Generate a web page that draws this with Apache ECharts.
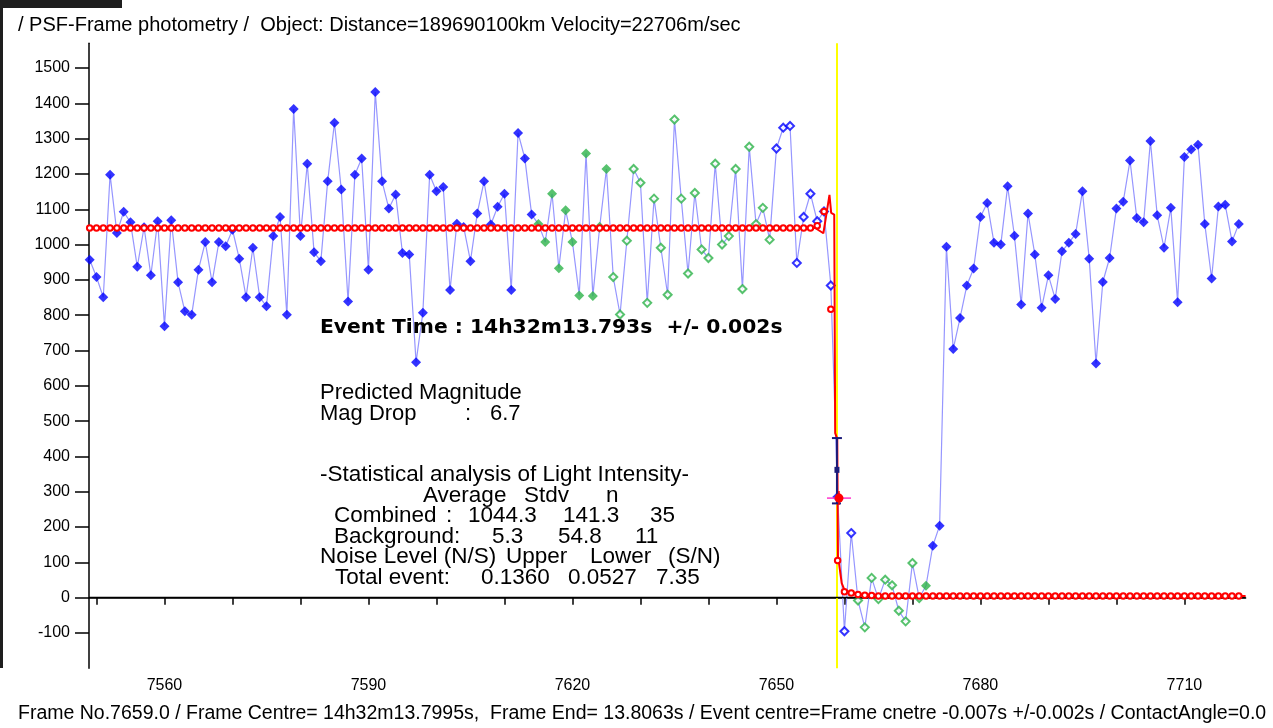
<!DOCTYPE html>
<html>
<head>
<meta charset="utf-8">
<title>PSF-Frame photometry</title>
<script src="https://cdn.jsdelivr.net/npm/echarts@6/dist/echarts.min.js"></script>
<style>
    html, body { margin: 0; padding: 0; background: #fff; }
    #chart { width: 1273px; height: 728px; }
</style>
</head>
<body>
<div id="chart"></div>
<script>
// frame number of the first measurement, one measurement per frame
var firstFrame = 7549;

// measured light intensity per frame
var flux = [
    957, 908, 851, 1198, 1033, 1093, 1063, 937, 1049, 913,
    1066, 769, 1069, 893, 811, 801, 929, 1007, 893, 1007,
    995, 1042, 960, 851, 991, 851, 825, 1024, 1078, 801,
    1384, 1024, 1229, 978, 953, 1179, 1345, 1156, 839, 1198,
    1244, 929, 1432, 1179, 1102, 1142, 976, 972, 667, 807,
    1198, 1151, 1163, 871, 1059, 1050, 953, 1088, 1179, 1057,
    1107, 1144, 871, 1316, 1244, 1085, 1058, 1007, 1144, 933,
    1097, 1007, 856, 1258, 854, 1049, 1214, 908, 802, 1011,
    1214, 1175, 835, 1130, 991, 858, 1354, 1130, 918, 1146,
    986, 962, 1229, 1000, 1024, 1214, 874, 1277, 1058, 1104,
    1014, 1272, 1331, 1336, 948, 1078, 1144, 1066, 1094, 884,
    285, -95, 183, -8, -84, 56, -4, 51, 35, -37,
    -67, 98, -1, 34, 147, 204, 994, 704, 792, 884,
    932, 1078, 1118, 1005, 1000, 1165, 1025, 830, 1088, 972,
    821, 913, 846, 981, 1005, 1030, 1151, 960, 663, 894,
    962, 1102, 1121, 1238, 1075, 1063, 1293, 1083, 991, 1104,
    837, 1248, 1269, 1283, 1058, 904, 1108, 1113, 1009, 1058
];

// frame groups used by the analysis
var combinedRange = [7615, 7649];      // n = 35
var backgroundRange = [7662, 7672];    // n = 11
var excludedRange = [7650, 7661];
var solidGreenFrames = [7615, 7616, 7617, 7618, 7619, 7620, 7621, 7622, 7623, 7625, 7672];

// model light curve (one value per frame)
var modelTop = 1047;
var modelBottom = 5;
var modelEdgeFrames = [7656, 7657, 7658, 7659, 7660, 7661, 7662, 7663, 7664];
var modelEdgeValues = [1053, 1094, 817, 105, 17, 13, 9, 7, 6];

// fine diffraction curve of the model
var fringeFrames = [7549, 7655.7, 7656.9, 7657.3, 7657.8, 7658.05, 7658.5, 7658.62, 7658.64, 7658.95, 7659.05, 7659.15, 7659.6, 7660.0, 7661.0, 7663.0, 7665.0, 7719];
var fringeValues = [1047, 1047, 1032, 1080, 1141, 1090, 1085, 1080, 466, 450, 116, 105, 41, 22, 12, 8, 6, 5];

// event
var eventFrame = 7658.9;
var errFrame = 7658.9, errValue = 362, errLow = 267, errHigh = 452;
var hitFrame = 7659.2, hitValue = 282;

// axes
var yTicks = [-100, 0, 100, 200, 300, 400, 500, 600, 700, 800, 900, 1000, 1100, 1200, 1300, 1400, 1500];
var xTicks = [7550, 7560, 7570, 7580, 7590, 7600, 7610, 7620, 7630, 7640, 7650, 7660, 7670, 7680, 7690, 7700, 7710];
var xLabels = [7560, 7590, 7620, 7650, 7680, 7710];

var titleText = '/ PSF-Frame photometry /  Object: Distance=189690100km Velocity=22706m/sec';
var footerText = 'Frame No.7659.0 / Frame Centre= 14h32m13.7995s,  Frame End= 13.8063s / Event centre=Frame cnetre -0.007s +/-0.002s / ContactAngle=0.0';

// ---- build series data ----
function inRange(f, r) { return f >= r[0] && f <= r[1]; }

function pointGroup(f) {
    if (inRange(f, combinedRange) || inRange(f, backgroundRange)) {
        return solidGreenFrames.indexOf(f) >= 0 ? 'greenSolid' : 'greenOpen';
    }
    if (inRange(f, excludedRange)) return 'blueOpen';
    return 'blueSolid';
}

var linePts = [];
var groups = { blueSolid: [], blueOpen: [], greenSolid: [], greenOpen: [] };
var modelPts = [];
for (var i = 0; i < flux.length; i++) {
    var f = firstFrame + i;
    linePts.push([f, flux[i]]);
    groups[pointGroup(f)].push([f, flux[i]]);
    var k = modelEdgeFrames.indexOf(f);
    var m = k >= 0 ? modelEdgeValues[k] : (f < modelEdgeFrames[0] ? modelTop : modelBottom);
    modelPts.push([f, m]);
}
var fringePts = fringeFrames.map(function (fr, j) { return [fr, fringeValues[j]]; });

var BLUE = '#0000ff', GREEN = '#2db34a', RED = '#ff0000', NAVY = '#1c1c7a';
var FONT = '"Liberation Sans", Arial, sans-serif';

function scatter(name, data, color, open) {
    return {
        name: name, type: 'scatter', data: data, z: 4,
        symbol: open ? 'emptyDiamond' : 'diamond',
        symbolSize: open ? 8 : 10,
        itemStyle: open ? { color: color, borderColor: color, borderWidth: 2 } : { color: color },
        silent: true
    };
}

function txt(x, y, s, size, weight, family) {
    return {
        type: 'text', x: x, y: y, z: 100,
        style: {
            text: s, fill: '#000', fontSize: size || 22.5, fontWeight: weight || 'normal',
            fontFamily: family || FONT, verticalAlign: 'middle', align: 'left'
        }
    };
}

var texts = [
    txt(18, 25, titleText, 20),
    txt(18, 714, footerText, 19.5),
    txt(320, 328, 'Event Time : 14h32m13.793s  +/- 0.002s', 20.3, 'bold', '"DejaVu Sans", sans-serif'),
    txt(320, 393, 'Predicted Magnitude', 22),
    txt(320, 413.5, 'Mag Drop', 22), txt(465, 413.5, ':', 22), txt(490, 413.5, '6.7', 22),
    txt(320, 475, '-Statistical analysis of Light Intensity-'),
    txt(423, 495.5, 'Average'), txt(524, 495.5, 'Stdv'), txt(606, 495.5, 'n'),
    txt(334, 516, 'Combined'), txt(446, 516, ':'), txt(468, 516, '1044.3'), txt(563, 516, '141.3'), txt(650, 516, '35'),
    txt(334, 536.5, 'Background:'), txt(492, 536.5, '5.3'), txt(558, 536.5, '54.8'), txt(635, 536.5, '11'),
    txt(320, 557, 'Noise Level (N/S)'), txt(506, 557, 'Upper'), txt(590, 557, 'Lower'), txt(668, 557, '(S/N)'),
    txt(335, 577.5, 'Total event:'), txt(481, 577.5, '0.1360'), txt(568, 577.5, '0.0527'), txt(656, 577.5, '7.35'),
    // dark screen edge from the original capture
    { type: 'rect', shape: { x: 0, y: 0, width: 122, height: 8 }, style: { fill: '#1e1e1e' }, z: 100 },
    { type: 'rect', shape: { x: 0, y: 0, width: 3, height: 668 }, style: { fill: '#1e1e1e' }, z: 100 }
];

var chart = echarts.init(document.getElementById('chart'), null, { renderer: 'canvas' });

function plain(v) { return String(v); }

chart.setOption({
    animation: false,
    backgroundColor: '#fff',
    grid: { left: 89, right: 27.4, top: 43.3, bottom: 59.7, outerBoundsMode: 'none' },
    xAxis: {
        type: 'value', min: 7548.9, max: 7719,
        axisLine: { lineStyle: { color: '#000', width: 1.5 } },
        axisTick: { customValues: xTicks, length: 7, lineStyle: { color: '#000', width: 1.5 } },
        axisLabel: { customValues: xLabels, formatter: plain, margin: 9, color: '#000', fontSize: 16, fontFamily: FONT },
        splitLine: { show: false }
    },
    yAxis: {
        type: 'value', min: -200, max: 1570,
        axisLine: { show: true, lineStyle: { color: '#000', width: 1.5 } },
        axisTick: { show: true, customValues: yTicks, length: 14, lineStyle: { color: '#000', width: 1.5 } },
        axisLabel: { customValues: yTicks, formatter: plain, margin: 19, color: '#000', fontSize: 16, fontFamily: FONT },
        splitLine: { show: false }
    },
    graphic: texts,
    series: [
        {
            name: 'flux', type: 'line', data: linePts, showSymbol: false, z: 2, silent: true,
            lineStyle: { color: '#9696ff', width: 1.2 },
            markLine: {
                silent: true, symbol: ['none', 'none'], label: { show: false },
                data: [
                    { xAxis: eventFrame, lineStyle: { color: '#ffff00', width: 2, type: 'solid' } },
                    { yAxis: 0, lineStyle: { color: '#000', width: 1.3, type: 'solid' } }
                ]
            }
        },
        scatter('blueSolid', groups.blueSolid, BLUE, false),
        scatter('blueOpen', groups.blueOpen, BLUE, true),
        scatter('greenSolid', groups.greenSolid, GREEN, false),
        scatter('greenOpen', groups.greenOpen, GREEN, true),
        {
            name: 'fringe', type: 'line', data: fringePts, showSymbol: false, z: 5, silent: true,
            lineStyle: { color: RED, width: 2 }
        },
        {
            name: 'model', type: 'line', data: modelPts, z: 6, silent: true,
            symbol: 'emptyCircle', symbolSize: 5.5, showAllSymbol: true,
            lineStyle: { width: 0, opacity: 0 },
            itemStyle: { color: RED, borderColor: RED, borderWidth: 1.7 }
        },
        {
            name: 'event', type: 'custom', z: 8, silent: true,
            data: [[errFrame, errValue]],
            renderItem: function (params, api) {
                var c = api.coord([errFrame, errValue]);
                var lo = api.coord([errFrame, errLow]);
                var hi = api.coord([errFrame, errHigh]);
                var h = api.coord([hitFrame, hitValue]);
                var stroke = { stroke: NAVY, lineWidth: 2 };
                return {
                    type: 'group',
                    children: [
                        { type: 'line', shape: { x1: lo[0], y1: lo[1], x2: hi[0], y2: hi[1] }, style: stroke },
                        { type: 'line', shape: { x1: hi[0] - 5, y1: hi[1], x2: hi[0] + 5, y2: hi[1] }, style: stroke },
                        { type: 'line', shape: { x1: lo[0] - 5, y1: lo[1], x2: lo[0] + 4, y2: lo[1] }, style: stroke },
                        { type: 'rect', shape: { x: c[0] - 2.5, y: c[1] - 3, width: 5, height: 6 }, style: { fill: NAVY } },
                        { type: 'line', shape: { x1: h[0] - 12, y1: h[1], x2: h[0] + 12, y2: h[1] }, style: { stroke: '#ff33cc', lineWidth: 1.5 } },
                        { type: 'line', shape: { x1: h[0], y1: h[1] - 7, x2: h[0], y2: h[1] + 7 }, style: { stroke: RED, lineWidth: 1.5 } },
                        { type: 'circle', shape: { cx: h[0], cy: h[1], r: 4.5 }, style: { fill: RED } }
                    ]
                };
            }
        }
    ]
});

window.addEventListener('resize', function () { chart.resize(); });
</script>
</body>
</html>
